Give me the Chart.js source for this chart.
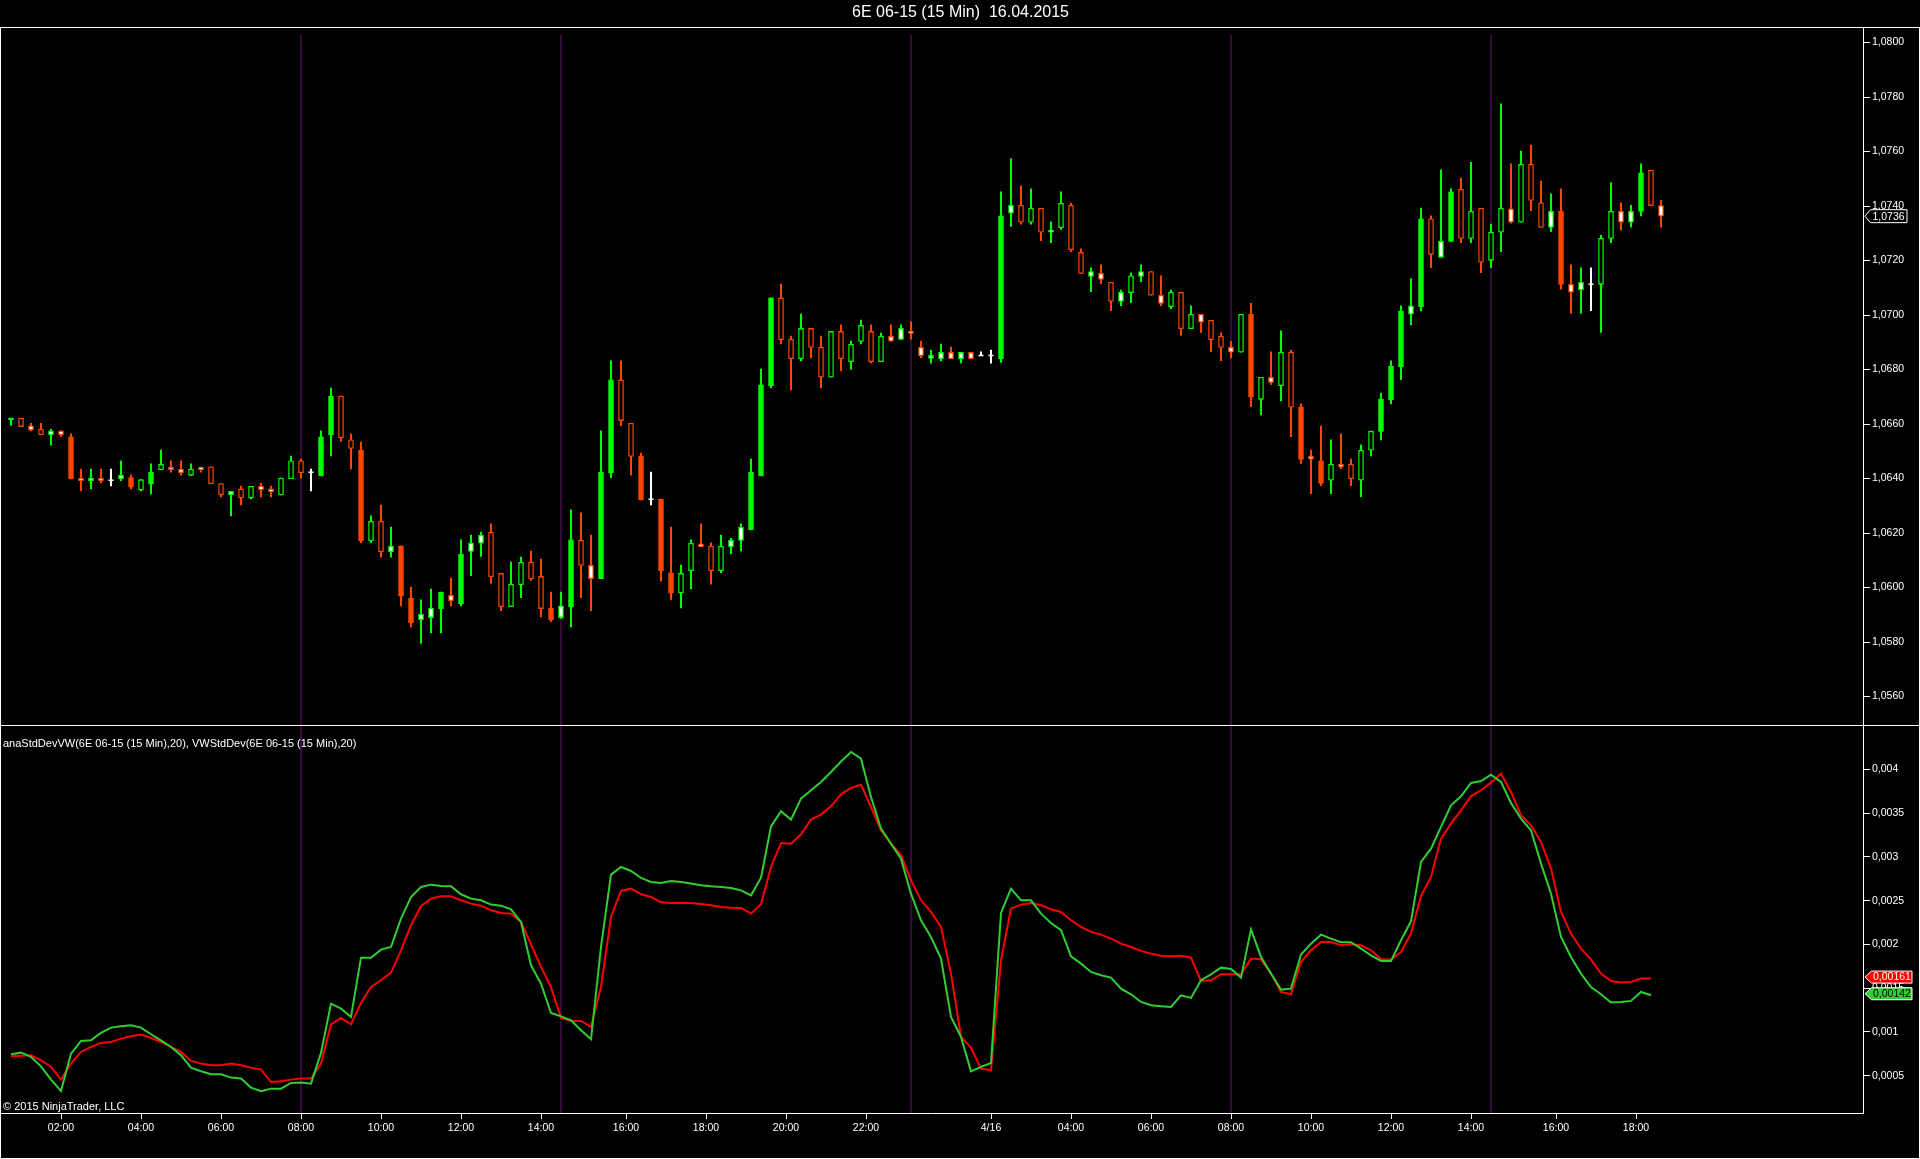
<!DOCTYPE html>
<html>
<head>
<meta charset="utf-8">
<title>6E 06-15 (15 Min) 16.04.2015</title>
<script src="https://cdn.jsdelivr.net/npm/chart.js@4.4.1/dist/chart.umd.min.js"></script>
<style>
html,body{margin:0;padding:0;background:#000;overflow:hidden;}
#wrap{position:relative;width:1920px;height:1159px;background:#000;}
canvas{position:absolute;left:0;display:block;}
#c1{top:0;}
#c2{top:725px;}
</style>
</head>
<body>
<div id="wrap">
<canvas id="c1" width="1920" height="725"></canvas>
<canvas id="c2" width="1920" height="434"></canvas>
</div>
<script>
// ---------------- DATA ----------------
const chartTitle = '6E 06-15 (15 Min)  16.04.2015';
const indicatorLegend = 'anaStdDevVW(6E 06-15 (15 Min),20), VWStdDev(6E 06-15 (15 Min),20)';
const copyrightText = '\u00A9 2015 NinjaTrader, LLC';

// 15-minute bars, 15.04.2015 00:45 ... 16.04.2015 18:30 (bar index = category)
const open = [
1.06616,1.06621,1.06594,1.06581,1.06561,1.06575,1.06553,1.06402,1.06392,1.06402,
1.06394,1.06400,1.06404,1.06358,1.06380,1.06433,1.06442,1.06435,1.06412,1.06442,
1.06443,1.06382,1.06341,1.06362,1.06329,1.06373,1.06362,1.06340,1.06400,1.06465,
1.06423,1.06410,1.06560,1.06703,1.06542,1.06505,1.06171,1.06243,1.06132,1.06153,
1.05962,1.05882,1.05890,1.05922,1.05972,1.05940,1.06133,1.06163,1.06203,1.06052,
1.05930,1.06011,1.06093,1.06041,1.05925,1.05890,1.05930,1.06174,1.06082,1.06033,
1.06421,1.06762,1.06603,1.06483,1.06324,1.06325,1.06054,1.05980,1.06062,1.06161,
1.06152,1.06062,1.06150,1.06173,1.06213,1.06410,1.06740,1.07063,1.06911,1.06840,
1.06951,1.06882,1.06772,1.06940,1.06829,1.06903,1.06940,1.06829,1.06922,1.06911,
1.06940,1.06882,1.06841,1.06840,1.06863,1.06840,1.06863,1.06852,1.06852,1.06840,
1.07374,1.07403,1.07341,1.07392,1.07304,1.07321,1.07403,1.07230,1.07142,1.07153,
1.07120,1.07050,1.07082,1.07142,1.07160,1.07073,1.07031,1.07084,1.06950,1.07003,
1.06981,1.06922,1.06882,1.06864,1.07003,1.06691,1.06772,1.06741,1.06864,1.06663,
1.06482,1.06465,1.06394,1.06453,1.06453,1.06394,1.06504,1.06573,1.06690,1.06811,
1.07003,1.07031,1.07353,1.07212,1.07270,1.07462,1.07281,1.07392,1.07201,1.07304,
1.07390,1.07341,1.07553,1.07412,1.07322,1.07382,1.07113,1.07092,1.07113,1.07113,
1.07281,1.07381,1.07341,1.07380,1.07531,1.07402];

const high = [
1.06622,1.06621,1.06603,1.06603,1.06581,1.06575,1.06564,1.06435,1.06435,1.06435,
1.06435,1.06465,1.06414,1.06396,1.06454,1.06505,1.06465,1.06465,1.06454,1.06442,
1.06443,1.06382,1.06353,1.06373,1.06372,1.06383,1.06373,1.06402,1.06483,1.06472,
1.06435,1.06575,1.06732,1.06703,1.06564,1.06534,1.06263,1.06303,1.06222,1.06153,
1.06002,1.05955,1.05995,1.05984,1.06035,1.06175,1.06193,1.06204,1.06234,1.06052,
1.06094,1.06112,1.06134,1.06105,1.05984,1.05984,1.06285,1.06274,1.06193,1.06575,
1.06832,1.06832,1.06603,1.06494,1.06424,1.06325,1.06222,1.06083,1.06175,1.06234,
1.06164,1.06193,1.06181,1.06234,1.06472,1.06802,1.07063,1.07114,1.06923,1.07004,
1.06951,1.06923,1.06940,1.06964,1.06905,1.06982,1.06964,1.06934,1.06964,1.06964,
1.06975,1.06905,1.06872,1.06894,1.06883,1.06863,1.06863,1.06865,1.06872,1.07452,
1.07573,1.07474,1.07463,1.07392,1.07342,1.07452,1.07411,1.07243,1.07173,1.07184,
1.07120,1.07092,1.07155,1.07184,1.07160,1.07144,1.07092,1.07084,1.07034,1.07003,
1.06981,1.06935,1.06904,1.07003,1.07043,1.06772,1.06865,1.06942,1.06872,1.06674,
1.06505,1.06593,1.06542,1.06564,1.06472,1.06524,1.06574,1.06714,1.06832,1.07034,
1.07133,1.07393,1.07364,1.07533,1.07463,1.07503,1.07561,1.07392,1.07334,1.07775,
1.07555,1.07602,1.07624,1.07492,1.07445,1.07463,1.07184,1.07173,1.07173,1.07293,
1.07485,1.07412,1.07403,1.07555,1.07531,1.07421];

const low = [
1.06595,1.06591,1.06575,1.06561,1.06523,1.06554,1.06399,1.06355,1.06362,1.06384,
1.06373,1.06392,1.06362,1.06355,1.06344,1.06433,1.06424,1.06413,1.06412,1.06424,
1.06381,1.06333,1.06263,1.06303,1.06325,1.06333,1.06333,1.06340,1.06400,1.06402,
1.06355,1.06410,1.06483,1.06536,1.06435,1.06165,1.06165,1.06112,1.06112,1.05933,
1.05856,1.05795,1.05834,1.05834,1.05933,1.05933,1.06044,1.06114,1.06015,1.05915,
1.05930,1.05963,1.06026,1.05892,1.05875,1.05886,1.05856,1.05963,1.05915,1.06033,
1.06403,1.06594,1.06413,1.06322,1.06303,1.06024,1.05955,1.05925,1.05995,1.06150,
1.06013,1.06055,1.06124,1.06135,1.06213,1.06410,1.06733,1.06894,1.06725,1.06832,
1.06843,1.06733,1.06772,1.06795,1.06802,1.06894,1.06824,1.06829,1.06904,1.06910,
1.06912,1.06844,1.06824,1.06832,1.06840,1.06824,1.06840,1.06852,1.06824,1.06826,
1.07325,1.07334,1.07334,1.07273,1.07266,1.07314,1.07233,1.07153,1.07086,1.07115,
1.07016,1.07035,1.07046,1.07123,1.07073,1.07035,1.07024,1.06925,1.06950,1.06936,
1.06866,1.06833,1.06843,1.06864,1.06664,1.06634,1.06746,1.06685,1.06554,1.06456,
1.06345,1.06374,1.06345,1.06436,1.06374,1.06334,1.06483,1.06542,1.06674,1.06763,
1.06964,1.07015,1.07174,1.07212,1.07270,1.07266,1.07266,1.07156,1.07174,1.07233,
1.07337,1.07341,1.07383,1.07322,1.07306,1.07095,1.07007,1.07007,1.07016,1.06936,
1.07266,1.07312,1.07323,1.07364,1.07402,1.07323];

const close = [
1.06622,1.06591,1.06578,1.06561,1.06575,1.06561,1.06399,1.06392,1.06402,1.06392,
1.06394,1.06412,1.06369,1.06396,1.06424,1.06452,1.06433,1.06422,1.06435,1.06432,
1.06381,1.06341,1.06353,1.06329,1.06372,1.06358,1.06351,1.06402,1.06465,1.06422,
1.06423,1.06553,1.06703,1.06550,1.06511,1.06171,1.06243,1.06132,1.06152,1.05969,
1.05870,1.05903,1.05925,1.05984,1.05952,1.06123,1.06164,1.06192,1.06040,1.05930,
1.06012,1.06093,1.06032,1.05923,1.05882,1.05933,1.06175,1.06081,1.06033,1.06424,
1.06762,1.06613,1.06481,1.06322,1.06324,1.06061,1.05980,1.06052,1.06163,1.06150,
1.06062,1.06152,1.06174,1.06221,1.06424,1.06744,1.07063,1.06910,1.06840,1.06951,
1.06881,1.06772,1.06940,1.06840,1.06893,1.06962,1.06829,1.06922,1.06904,1.06951,
1.06933,1.06851,1.06852,1.06863,1.06840,1.06863,1.06840,1.06852,1.06852,1.07364,
1.07403,1.07341,1.07392,1.07304,1.07312,1.07410,1.07240,1.07153,1.07160,1.07131,
1.07050,1.07084,1.07144,1.07160,1.07073,1.07043,1.07084,1.06950,1.07003,1.06974,
1.06910,1.06881,1.06864,1.07003,1.06700,1.06772,1.06753,1.06864,1.06662,1.06470,
1.06471,1.06382,1.06453,1.06442,1.06400,1.06504,1.06574,1.06692,1.06813,1.07015,
1.07034,1.07353,1.07223,1.07271,1.07452,1.07281,1.07381,1.07194,1.07304,1.07392,
1.07341,1.07553,1.07421,1.07322,1.07381,1.07113,1.07084,1.07120,1.07113,1.07282,
1.07381,1.07341,1.07381,1.07522,1.07402,1.07363];

// Indicator panel
const anaStdDevVW = [
0.000723,0.000730,0.000734,0.000677,0.000601,0.000456,0.000639,0.000772,0.000829,0.000875,
0.000886,0.000924,0.000951,0.000970,0.000932,0.000886,0.000829,0.000772,0.000669,0.000639,
0.000620,0.000620,0.000639,0.000620,0.000593,0.000570,0.000430,0.000437,0.000456,0.000468,
0.000468,0.000639,0.001088,0.001160,0.001088,0.001332,0.001514,0.001591,0.001678,0.001933,
0.002219,0.002436,0.002523,0.002550,0.002550,0.002504,0.002466,0.002443,0.002390,0.002360,
0.002352,0.002257,0.002002,0.001743,0.001514,0.001160,0.001126,0.001126,0.001058,0.001514,
0.002314,0.002611,0.002637,0.002573,0.002542,0.002481,0.002474,0.002474,0.002474,0.002462,
0.002447,0.002428,0.002420,0.002417,0.002352,0.002459,0.002885,0.003159,0.003151,0.003258,
0.003426,0.003483,0.003578,0.003715,0.003787,0.003825,0.003570,0.003304,0.003151,0.003018,
0.002733,0.002504,0.002371,0.002200,0.001667,0.000943,0.000822,0.000582,0.000563,0.001819,
0.002409,0.002455,0.002474,0.002447,0.002401,0.002371,0.002276,0.002200,0.002143,0.002112,
0.002066,0.002009,0.001971,0.001926,0.001895,0.001872,0.001865,0.001872,0.001849,0.001583,
0.001591,0.001659,0.001659,0.001659,0.001838,0.001830,0.001667,0.001457,0.001431,0.001800,
0.001933,0.002028,0.002028,0.001990,0.002002,0.001990,0.001933,0.001834,0.001827,0.001914,
0.002124,0.002554,0.002771,0.003209,0.003380,0.003532,0.003692,0.003761,0.003848,0.003951,
0.003742,0.003475,0.003361,0.003170,0.002866,0.002371,0.002124,0.001952,0.001827,0.001667,
0.001583,0.001564,0.001571,0.001610,0.001610,null];

const vwStdDev = [
0.000745,0.000764,0.000715,0.000608,0.000456,0.000327,0.000753,0.000898,0.000905,0.000989,
0.001050,0.001065,0.001077,0.001050,0.000974,0.000905,0.000829,0.000734,0.000593,0.000551,
0.000517,0.000517,0.000479,0.000468,0.000365,0.000323,0.000353,0.000353,0.000418,0.000422,
0.000410,0.000761,0.001324,0.001267,0.001172,0.001849,0.001849,0.001941,0.001971,0.002295,
0.002542,0.002656,0.002683,0.002668,0.002664,0.002573,0.002523,0.002504,0.002455,0.002443,
0.002401,0.002257,0.001762,0.001552,0.001217,0.001179,0.001134,0.001019,0.000917,0.001971,
0.002797,0.002885,0.002839,0.002759,0.002714,0.002702,0.002725,0.002714,0.002695,0.002676,
0.002664,0.002656,0.002645,0.002618,0.002561,0.002763,0.003349,0.003521,0.003426,0.003665,
0.003761,0.003856,0.003970,0.004090,0.004198,0.004122,0.003684,0.003323,0.003151,0.002980,
0.002580,0.002276,0.002085,0.001838,0.001172,0.000943,0.000551,0.000601,0.000646,0.002360,
0.002637,0.002504,0.002504,0.002352,0.002245,0.002162,0.001865,0.001781,0.001686,0.001648,
0.001621,0.001495,0.001431,0.001343,0.001305,0.001294,0.001286,0.001419,0.001389,0.001591,
0.001659,0.001735,0.001720,0.001621,0.002173,0.001857,0.001667,0.001484,0.001495,0.001884,
0.002009,0.002112,0.002066,0.002025,0.002025,0.001952,0.001876,0.001811,0.001811,0.002047,
0.002264,0.002942,0.003094,0.003342,0.003589,0.003692,0.003844,0.003867,0.003939,0.003856,
0.003616,0.003437,0.003304,0.002923,0.002580,0.002085,0.001857,0.001667,0.001514,0.001431,
0.001336,0.001343,0.001355,0.001457,0.001420,null];

// Axis ticks
const priceTicks = [1.056,1.058,1.060,1.062,1.064,1.066,1.068,1.070,1.072,1.074,1.076,1.078,1.080];
const priceTickLabels = ['1,0560','1,0580','1,0600','1,0620','1,0640','1,0660','1,0680','1,0700','1,0720','1,0740','1,0760','1,0780','1,0800'];
const devTicks = [0.0005,0.001,0.0015,0.002,0.0025,0.003,0.0035,0.004];
const devTickLabels = ['0,0005','0,001','0,0015','0,002','0,0025','0,003','0,0035','0,004'];
// time-axis label positions, in bar units (after the 14:30 session break the labels sit half a bar later)
const timeTickBars = [5,13,21,29,37,45,53,61.5,69.5,77.5,85.5,98,106,114,122,130,138,146,154.5,162.5];
const timeTickLabels = ['02:00','04:00','06:00','08:00','10:00','12:00','14:00','16:00','18:00','20:00','22:00','4/16','04:00','06:00','08:00','10:00','12:00','14:00','16:00','18:00'];
const sessionBreakBars = [29,55,90,122,148];

// ---------------- STYLE ----------------
// bar paint: S = solid body, H = hollow body, W = white body
const barPaint = ('SHWHWWSWWW'+'WWSHSHWWHW'+'HHWHHWWHHH'+'WSSHHSHHWS'+'SWWSWSWWHH'+
                  'HHHHSWSHWS'+'SHHSWSSHHW'+'HHWWSSSHHH'+'HHHHHHHHWW'+'WWWWWWWWWS'+
                  'WHHHWHHHWW'+'HWHWHWHHHW'+'HHWHSHWHHS'+'WSHWHHHSSS'+'WSHWSHHHHH'+
                  'WHHHWSWWWH'+'HWWSHW').split('');
const FONT = "'Liberation Sans', Arial, Helvetica, sans-serif";
const C_UP = '#00ff00', C_DN = '#ff4500', C_DOJI = '#ffffff';
const C_SESSION = '#430d43';
const X_MIN = -1, X_MAX = 185.2;

const idx = close.map((_, i) => i);
const barColor = idx.map(i => close[i] > open[i] ? C_UP : (close[i] < open[i] ? C_DN : C_DOJI));
const bodyFill = idx.map(i => open[i] === close[i] ? 'rgba(0,0,0,0)' :
  (barPaint[i] === 'S' ? barColor[i] : (barPaint[i] === 'W' ? '#ffffff' : '#000000')));
const bodyBorder = idx.map(i => open[i] === close[i] ? 'rgba(0,0,0,0)' : barColor[i]);

function drawSessions(chart, top) {
  const {ctx, chartArea, scales} = chart;
  ctx.save();
  ctx.strokeStyle = C_SESSION;
  ctx.lineWidth = 1.6;
  sessionBreakBars.forEach(b => {
    const x = scales.x.getPixelForValue(b);
    ctx.beginPath();
    ctx.moveTo(x, top);
    ctx.lineTo(x, chartArea.bottom);
    ctx.stroke();
  });
  ctx.restore();
}

function drawTag(ctx, y, text, fill, textColor) {
  const tip = 1865, l = 1871.5, r = 1912, h = 6;
  ctx.save();
  ctx.beginPath();
  ctx.moveTo(tip, y);
  ctx.lineTo(l, y - h);
  ctx.lineTo(r, y - h);
  ctx.lineTo(r, y + h);
  ctx.lineTo(l, y + h);
  ctx.closePath();
  ctx.fillStyle = fill;
  ctx.fill();
  ctx.strokeStyle = '#ffffff';
  ctx.lineWidth = 1;
  ctx.stroke();
  ctx.fillStyle = textColor;
  ctx.font = '10.5px ' + FONT;
  ctx.textAlign = 'left';
  ctx.textBaseline = 'middle';
  ctx.fillText(text, l + 1.5, y + 0.5);
  ctx.restore();
}

const pricePanelPlugin = {
  id: 'pricePanel',
  beforeDatasetsDraw(chart) { drawSessions(chart, 35); },
  afterDraw(chart) {
    const {ctx, scales} = chart;
    ctx.save();
    ctx.strokeStyle = '#ffffff';
    ctx.lineWidth = 1;
    ctx.beginPath();
    ctx.moveTo(0, 27.5); ctx.lineTo(1920, 27.5);
    ctx.moveTo(0.5, 27); ctx.lineTo(0.5, 725);
    ctx.moveTo(1919.5, 27); ctx.lineTo(1919.5, 725);
    ctx.stroke();
    ctx.restore();
    const last = close[close.length - 1];
    const y = scales.y.getPixelForValue(last);
    const tip = 1865, l = 1870.5, r = 1907, h = 6.5;
    ctx.save();
    ctx.beginPath();
    ctx.moveTo(tip, y); ctx.lineTo(l, y - h); ctx.lineTo(r, y - h);
    ctx.lineTo(r, y + h); ctx.lineTo(l, y + h); ctx.closePath();
    ctx.fillStyle = '#000'; ctx.fill();
    ctx.strokeStyle = '#fff'; ctx.lineWidth = 1; ctx.stroke();
    ctx.fillStyle = '#fff';
    ctx.font = '10.5px ' + FONT;
    ctx.textBaseline = 'middle';
    ctx.fillText(last.toFixed(4).replace('.', ','), l + 2, y + 0.5);
    ctx.restore();
  }
};

const devPanelPlugin = {
  id: 'devPanel',
  beforeDatasetsDraw(chart) { drawSessions(chart, chart.chartArea.top); },
  afterDraw(chart) {
    const {ctx, scales} = chart;
    ctx.save();
    ctx.strokeStyle = '#ffffff';
    ctx.lineWidth = 1;
    ctx.beginPath();
    ctx.moveTo(0, 0.5); ctx.lineTo(1920, 0.5);
    ctx.moveTo(0.5, 0); ctx.lineTo(0.5, 434);
    ctx.moveTo(1919.5, 0); ctx.lineTo(1919.5, 434);
    ctx.moveTo(0, 433.5); ctx.lineTo(1920, 433.5);
    ctx.stroke();
    ctx.fillStyle = '#ffffff';
    ctx.font = '11px ' + FONT;
    ctx.textAlign = 'left';
    ctx.textBaseline = 'middle';
    ctx.fillText(indicatorLegend, 3, 18.5);
    ctx.fillText(copyrightText, 3, 382);
    ctx.restore();
    const lastRed = anaStdDevVW.filter(v => v !== null).pop();
    const lastGreen = vwStdDev.filter(v => v !== null).pop();
    drawTag(ctx, scales.y.getPixelForValue(lastRed) - 1.5, lastRed.toFixed(5).replace('.', ','), '#ff0000', '#ffffff');
    drawTag(ctx, scales.y.getPixelForValue(lastGreen) - 1.5, lastGreen.toFixed(5).replace('.', ','), '#32cd32', '#000000');
  }
};

Chart.defaults.font.family = FONT;

new Chart(document.getElementById('c1'), {
  type: 'bar',
  data: {
    datasets: [
      {
        label: 'body',
        data: idx.map(i => ({x: i, y: [open[i], close[i]]})),
        backgroundColor: bodyFill,
        borderColor: bodyBorder,
        borderWidth: 1.3,
        borderSkipped: false,
        barThickness: 5,
        grouped: false,
        order: 0
      },
      {
        type: 'line',
        label: 'doji',
        data: idx.filter(i => open[i] === close[i]).map(i => ({x: i, y: close[i]})),
        showLine: false,
        pointStyle: 'line',
        pointRadius: 2.5,
        pointHoverRadius: 2.5,
        borderColor: C_DOJI,
        pointBorderColor: C_DOJI,
        pointBorderWidth: 1.5,
        borderWidth: 1.5,
        order: 0
      },
      {
        label: 'wick',
        data: idx.map(i => ({x: i, y: [low[i], high[i]]})),
        backgroundColor: barColor,
        borderWidth: 0,
        barThickness: 1.4,
        grouped: false,
        order: 1
      }
    ]
  },
  options: {
    responsive: false,
    animation: false,
    devicePixelRatio: 1,
    events: [],
    layout: {autoPadding: false, padding: {left: 1, right: 0, top: 0, bottom: 0}},
    plugins: {
      legend: {display: false},
      tooltip: {enabled: false},
      title: {
        display: true, text: chartTitle, color: '#ffffff',
        font: {family: FONT, size: 16, weight: 'normal'},
        padding: {top: 3, bottom: 6}
      }
    },
    scales: {
      x: {type: 'linear', min: X_MIN, max: X_MAX, display: false, offset: false, grid: {offset: false}},
      y: {
        type: 'linear', position: 'right', min: 1.054958, max: 1.080528, bounds: 'data',
        afterBuildTicks: s => { s.ticks = priceTicks.map(v => ({value: v})); },
        afterFit: s => { s.width = 57; s.paddingTop = 0; s.paddingBottom = 0; },
        ticks: {color: '#ffffff', font: {family: FONT, size: 10.5}, padding: 2,
                callback: (v, i) => priceTickLabels[i]},
        grid: {drawOnChartArea: false, drawTicks: true, tickLength: 7, color: '#ffffff'},
        border: {display: true, color: '#ffffff', width: 1}
      }
    }
  },
  plugins: [pricePanelPlugin]
});

new Chart(document.getElementById('c2'), {
  type: 'line',
  data: {
    datasets: [
      {
        label: 'VWStdDev',
        data: idx.map(i => ({x: i, y: vwStdDev[i]})),
        borderColor: '#32cd32', borderWidth: 2, pointRadius: 0, tension: 0, fill: false, order: 0
      },
      {
        label: 'anaStdDevVW',
        data: idx.map(i => ({x: i, y: anaStdDevVW[i]})),
        borderColor: '#ff0000', borderWidth: 2, pointRadius: 0, tension: 0, fill: false, order: 1
      }
    ]
  },
  options: {
    responsive: false,
    animation: false,
    devicePixelRatio: 1,
    events: [],
    layout: {autoPadding: false, padding: {left: 1, right: 0, top: 1, bottom: 0}},
    plugins: {legend: {display: false}, tooltip: {enabled: false}},
    scales: {
      x: {
        type: 'linear', min: X_MIN, max: X_MAX, offset: false, bounds: 'data',
        afterBuildTicks: s => { s.ticks = timeTickBars.map(v => ({value: v})); },
        afterFit: s => { s.height = 46; s.paddingLeft = 0; s.paddingRight = 0; },
        ticks: {color: '#ffffff', font: {family: FONT, size: 10.5}, padding: 3, autoSkip: false,
                maxRotation: 0, minRotation: 0, callback: (v, i) => timeTickLabels[i]},
        grid: {drawOnChartArea: false, drawTicks: true, tickLength: 6, color: '#ffffff', offset: false},
        border: {display: true, color: '#ffffff', width: 1}
      },
      y: {
        type: 'linear', position: 'right', min: 0.0000747, max: 0.004495, bounds: 'data',
        afterBuildTicks: s => { s.ticks = devTicks.map(v => ({value: v})); },
        afterFit: s => { s.width = 57; s.paddingTop = 0; s.paddingBottom = 0; },
        ticks: {color: '#ffffff', font: {family: FONT, size: 10.5}, padding: 2,
                callback: (v, i) => devTickLabels[i]},
        grid: {drawOnChartArea: false, drawTicks: true, tickLength: 7, color: '#ffffff'},
        border: {display: true, color: '#ffffff', width: 1}
      }
    }
  },
  plugins: [devPanelPlugin]
});
</script>
</body>
</html>
